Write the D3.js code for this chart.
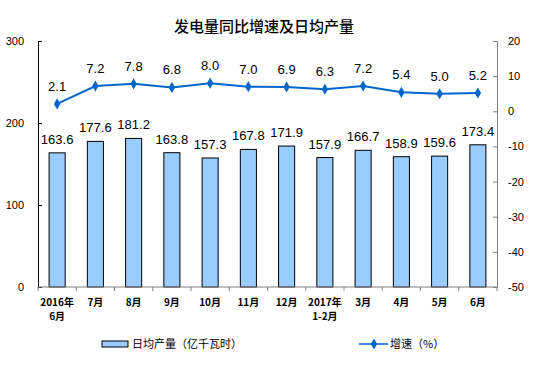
<!DOCTYPE html>
<html><head><meta charset="utf-8">
<script src="https://cdn.jsdelivr.net/npm/d3@7"></script>
<style>body{margin:0;background:#fff}svg{display:block}</style>
</head><body>
<script>
const categories = [["2016年","6月"],["7月"],["8月"],["9月"],["10月"],["11月"],["12月"],["2017年","1-2月"],["3月"],["4月"],["5月"],["6月"]];
const output = [163.6,177.6,181.2,163.8,157.3,167.8,171.9,157.9,166.7,158.9,159.6,173.4];
const growth = [2.1,7.2,7.8,6.8,8.0,7.0,6.9,6.3,7.2,5.4,5.0,5.2];
const leftTicks = [0,100,200,300];
const rightTicks = [20,10,0,-10,-20,-30,-40,-50];
const title = "发电量同比增速及日均产量";
const legendBar = "日均产量（亿千瓦时）";
const legendLine = "增速（%）";

const W=550,H=379;
const svg=d3.select("body").append("svg").attr("width",W).attr("height",H);
const L=38,R=497,T=41,B=287;
const font="'Liberation Sans', Arial, sans-serif";
const cjk="'Noto Sans CJK SC', sans-serif";

const x=d3.scaleBand().domain(d3.range(categories.length)).range([L,R]).paddingInner(0.58).paddingOuter(0.29);
const xb=d3.scaleBand().domain(d3.range(categories.length)).range([L,R]);
const yL=d3.scaleLinear().domain([0,300]).range([B,T]);
const yR=d3.scaleLinear().domain([-50,20]).range([B,T]);

svg.append("text").attr("x",264).attr("y",32).attr("text-anchor","middle")
  .attr("font-family",cjk).attr("font-size",15).attr("font-weight",500).attr("fill","#000").text(title);

// bars
svg.selectAll("rect.bar").data(output).join("rect").attr("class","bar")
  .attr("x",(d,i)=>x(i)).attr("width",x.bandwidth())
  .attr("y",d=>yL(d)).attr("height",d=>B-yL(d))
  .attr("fill","#99ccff").attr("stroke","#000").attr("stroke-width",1);
svg.selectAll("text.bl").data(output).join("text").attr("class","bl")
  .attr("x",(d,i)=>xb(i)+xb.bandwidth()/2).attr("y",d=>yL(d)-9)
  .attr("text-anchor","middle").attr("font-family",font).attr("font-size",13).attr("fill","#000")
  .text(d=>d.toFixed(1));

// axes
const gL=svg.append("g").attr("transform",`translate(${L},0)`)
  .call(d3.axisLeft(yL).tickValues(leftTicks).tickSize(-4).tickPadding(14).tickFormat(d=>String(d)));
gL.select(".domain").attr("stroke","#000");
gL.selectAll(".tick line").attr("stroke","#000");
gL.selectAll("text").attr("font-family",font).attr("font-size",11).attr("fill","#000");

const gR=svg.append("g").attr("transform",`translate(${R},0)`)
  .call(d3.axisRight(yR).tickValues(rightTicks).tickSize(-4).tickPadding(11).tickFormat(d=>String(d)));
gR.select(".domain").attr("stroke","#808080");
gR.selectAll(".tick line").attr("stroke","#808080");
gR.selectAll("text").attr("font-family",font).attr("font-size",11).attr("fill","#000");

// x axis
svg.append("line").attr("x1",L).attr("x2",R).attr("y1",B).attr("y2",B).attr("stroke","#808080");
svg.selectAll("line.xt").data(d3.range(categories.length+1)).join("line").attr("class","xt")
  .attr("x1",i=>L+i*xb.bandwidth()).attr("x2",i=>L+i*xb.bandwidth())
  .attr("y1",B).attr("y2",B+4).attr("stroke","#808080");
const xl=svg.selectAll("text.xl").data(categories).join("text").attr("class","xl")
  .attr("x",(d,i)=>xb(i)+xb.bandwidth()/2).attr("y",306)
  .attr("text-anchor","middle").attr("font-family",cjk).attr("font-size",10).attr("font-weight","bold").attr("fill","#000");
xl.each(function(d){
  const t=d3.select(this);
  d.forEach((s,k)=>t.append("tspan").attr("x",t.attr("x")).attr("dy",k?14:0).text(s));
});

// line
const cx=i=>xb(i)+xb.bandwidth()/2;
svg.append("path").datum(growth)
  .attr("d",d3.line().x((d,i)=>cx(i)).y(d=>yR(d)))
  .attr("fill","none").attr("stroke","#0066cc").attr("stroke-width",2);
const diamond=d3.symbol().type(d3.symbolDiamond).size(36);
svg.selectAll("path.pt").data(growth).join("path").attr("class","pt")
  .attr("d",diamond).attr("transform",(d,i)=>`translate(${cx(i)},${yR(d)})`).attr("fill","#0066cc");
svg.selectAll("text.ll").data(growth).join("text").attr("class","ll")
  .attr("x",(d,i)=>cx(i)).attr("y",d=>yR(d)-13)
  .attr("text-anchor","middle").attr("font-family",font).attr("font-size",13).attr("fill","#000")
  .text(d=>d.toFixed(1));

// legend
svg.append("rect").attr("x",102).attr("y",341).attr("width",26).attr("height",6)
  .attr("fill","#99ccff").attr("stroke","#000");
svg.append("text").attr("x",132).attr("y",348).attr("font-family",cjk).attr("font-size",11).attr("fill","#000").text(legendBar);
svg.append("line").attr("x1",359).attr("x2",388).attr("y1",344).attr("y2",344).attr("stroke","#0066cc").attr("stroke-width",1.5);
svg.append("path").attr("d",diamond).attr("transform","translate(374,344)").attr("fill","#0066cc");
svg.append("text").attr("x",390).attr("y",348).attr("font-family",cjk).attr("font-size",11).attr("fill","#000").text(legendLine);
</script>
</body></html>
